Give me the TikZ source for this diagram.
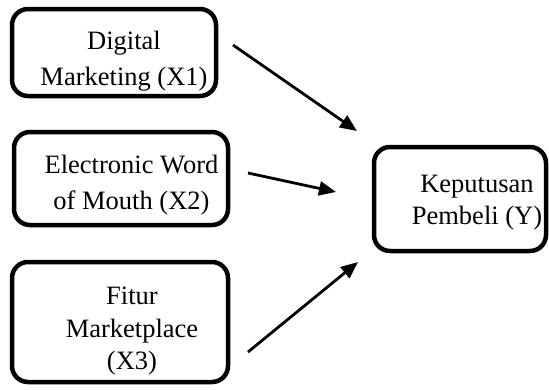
\documentclass[tikz,border=0pt]{standalone}
\usepackage{fontspec}
\setmainfont{Liberation Serif}
\usetikzlibrary{arrows.meta}
\begin{document}
\begin{tikzpicture}[x=1pt,y=-1pt,
  boxnode/.style={draw=black,line width=4.5pt,rounded corners=16pt,inner sep=0pt},
  lbl/.style={anchor=north,align=center,inner sep=0pt,font=\fontsize{26.5}{34}\selectfont},
  conn/.style={line width=2.8pt,-{Triangle[length=17pt,width=14pt]}}]
\useasboundingbox (0,0) rectangle (549,389);
\node[boxnode,minimum width=204pt,minimum height=87pt] (b1) at (114,52.5) {};
\node[boxnode,minimum width=214pt,minimum height=93pt] (b2) at (121,178.5) {};
\node[boxnode,minimum width=216pt,minimum height=120pt] (b3) at (120,322) {};
\node[boxnode,minimum width=172pt,minimum height=104pt] (b4) at (460,199) {};
\begin{scope}
\clip (14,11) rectangle (214,90);
\node[lbl,font=\fontsize{26.5}{35.5}\selectfont] (t1) at (124,31) {Digital\\Marketing (X1)};
\end{scope}
\node[lbl,font=\fontsize{26.5}{35.5}\selectfont] (t2) at (131.5,155) {Electronic Word\\of Mouth (X2)};
\node[lbl,font=\fontsize{26.5}{32.5}\selectfont] (t3) at (132,287) {Fitur\\Marketplace\\(X3)};
\node[lbl,font=\fontsize{26.5}{32}\selectfont] (t4) at (477,175) {Keputusan\\Pembeli (Y)};
\coordinate (s1) at (233,45);
\coordinate (e1) at (357,131);
\coordinate (s2) at (248,173);
\coordinate (e2) at (336,192);
\coordinate (s3) at (248,352);
\coordinate (e3) at (358,262);
\draw[conn] (s1) -- (e1);
\draw[conn] (s2) -- (e2);
\draw[conn] (s3) -- (e3);
\end{tikzpicture}
\end{document}
